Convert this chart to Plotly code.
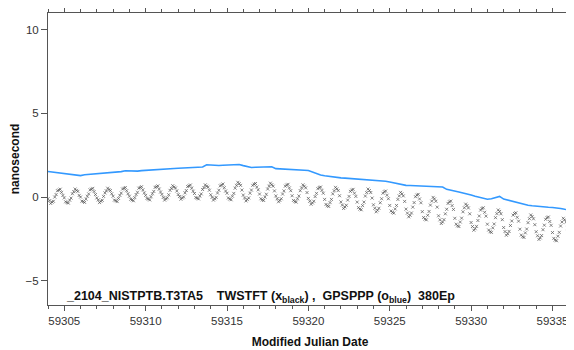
import plotly.graph_objects as go

# ---------------- data ----------------
# GPSPPP (blue), sampled every 0.25 day starting at MJD 59304.00
blue_start = 59304.0
blue_step_days = 0.25
blue_values = [
    1.53, 1.50, 1.47, 1.45,
    1.42, 1.38, 1.33, 1.30,
    1.28, 1.33, 1.35, 1.36,
    1.38, 1.40, 1.42, 1.44,
    1.46, 1.48, 1.52, 1.57,
    1.55, 1.53, 1.55, 1.58,
    1.60, 1.62, 1.65, 1.66,
    1.67, 1.69, 1.70, 1.71,
    1.72, 1.73, 1.74, 1.76,
    1.77, 1.79, 1.80, 1.93,
    1.91, 1.90, 1.89, 1.90,
    1.91, 1.93, 1.94, 1.95,
    1.88, 1.82, 1.77, 1.78,
    1.79, 1.78, 1.80, 1.81,
    1.70, 1.68, 1.66, 1.65,
    1.64, 1.63, 1.61, 1.60,
    1.59, 1.50, 1.40, 1.32,
    1.27, 1.23, 1.20, 1.18,
    1.15, 1.13, 1.11, 1.10,
    1.09, 1.08, 1.07, 1.05,
    1.03, 1.00, 0.97, 0.95,
    0.90, 0.85, 0.80, 0.74,
    0.70, 0.69, 0.68, 0.68,
    0.67, 0.66, 0.66, 0.65,
    0.64, 0.60, 0.46, 0.42,
    0.36, 0.30, 0.24, 0.20,
    0.12, 0.05, -0.02, -0.08,
    -0.13, -0.10, -0.05, 0.04,
    -0.12, -0.18, -0.25, -0.31,
    -0.38, -0.45, -0.49, -0.52,
    -0.55, -0.57, -0.59, -0.61,
    -0.62, -0.64, -0.68, -0.73,
    -0.77, -0.80,
]

# TWSTFT (black), one row per MJD day, samples at every 2 hours
black_days = list(range(59304, 59337))
black_hours = [0, 2, 4, 6, 8, 10, 12, 14, 16, 18, 20, 22]
black_rows = [
    [-0.10, -0.22, -0.38, -0.30, -0.25, 0.00, 0.15, 0.38, 0.42, 0.47, 0.28, 0.10],
    [-0.05, -0.28, -0.33, -0.36, -0.18, -0.06, 0.20, 0.32, 0.48, 0.40, 0.34, 0.10],
    [0.00, -0.24, -0.27, -0.32, -0.12, 0.05, 0.19, 0.43, 0.47, 0.52, 0.33, 0.15],
    [-0.05, -0.17, -0.33, -0.25, -0.19, 0.04, 0.25, 0.37, 0.53, 0.45, 0.39, 0.20],
    [0.05, -0.18, -0.22, -0.27, -0.08, 0.10, 0.24, 0.48, 0.52, 0.57, 0.38, 0.20],
    [0.05, -0.13, -0.17, -0.22, -0.03, 0.15, 0.29, 0.53, 0.57, 0.62, 0.43, 0.25],
    [0.10, -0.08, -0.12, -0.17, 0.02, 0.20, 0.34, 0.58, 0.62, 0.67, 0.48, 0.30],
    [0.16, -0.02, -0.18, -0.10, -0.04, 0.14, 0.40, 0.52, 0.68, 0.60, 0.54, 0.36],
    [0.15, 0.03, -0.13, -0.05, 0.01, 0.25, 0.39, 0.63, 0.67, 0.72, 0.53, 0.35],
    [0.21, -0.03, -0.07, -0.11, 0.07, 0.19, 0.45, 0.57, 0.73, 0.65, 0.59, 0.41],
    [0.14, -0.01, -0.18, -0.10, -0.02, 0.24, 0.41, 0.67, 0.72, 0.78, 0.56, 0.36],
    [0.23, -0.05, -0.12, -0.16, 0.05, 0.22, 0.53, 0.70, 0.88, 0.80, 0.70, 0.42],
    [0.12, -0.05, -0.23, -0.15, -0.05, 0.23, 0.42, 0.70, 0.77, 0.81, 0.60, 0.43],
    [0.18, -0.10, -0.17, -0.20, 0.00, 0.17, 0.48, 0.65, 0.83, 0.74, 0.65, 0.37],
    [0.07, -0.10, -0.28, -0.20, -0.10, 0.18, 0.37, 0.65, 0.72, 0.76, 0.55, 0.38],
    [0.08, -0.20, -0.27, -0.30, -0.10, 0.07, 0.38, 0.55, 0.73, 0.65, 0.55, 0.27],
    [-0.08, -0.25, -0.43, -0.35, -0.25, 0.03, 0.22, 0.50, 0.57, 0.60, 0.40, 0.23],
    [-0.14, -0.44, -0.52, -0.56, -0.33, -0.14, 0.19, 0.38, 0.58, 0.49, 0.39, 0.08],
    [-0.29, -0.48, -0.68, -0.59, -0.49, -0.18, 0.04, 0.34, 0.42, 0.46, 0.23, 0.04],
    [-0.30, -0.63, -0.72, -0.76, -0.51, -0.30, 0.06, 0.27, 0.48, 0.39, 0.27, -0.06],
    [-0.46, -0.67, -0.88, -0.79, -0.67, -0.34, -0.10, 0.23, 0.32, 0.36, 0.11, -0.10],
    [-0.50, -0.83, -0.92, -0.96, -0.71, -0.50, -0.14, 0.07, 0.28, 0.19, 0.07, -0.26],
    [-0.72, -0.96, -1.18, -1.09, -0.95, -0.60, -0.33, 0.02, 0.12, 0.16, -0.11, -0.34],
    [-0.87, -1.22, -1.32, -1.36, -1.09, -0.86, -0.48, -0.24, -0.02, -0.11, -0.25, -0.60],
    [-1.12, -1.36, -1.58, -1.49, -1.35, -1.00, -0.73, -0.38, -0.28, -0.24, -0.51, -0.74],
    [-1.27, -1.62, -1.72, -1.76, -1.49, -1.26, -0.88, -0.64, -0.42, -0.51, -0.65, -1.00],
    [-1.52, -1.76, -1.98, -1.89, -1.75, -1.40, -1.13, -0.78, -0.68, -0.64, -0.91, -1.14],
    [-1.62, -1.97, -2.07, -2.11, -1.84, -1.61, -1.23, -0.99, -0.77, -0.86, -1.00, -1.35],
    [-1.82, -2.06, -2.28, -2.19, -2.05, -1.70, -1.43, -1.08, -0.98, -0.94, -1.21, -1.44],
    [-1.92, -2.27, -2.37, -2.41, -2.14, -1.91, -1.53, -1.29, -1.07, -1.16, -1.30, -1.65],
    [-2.07, -2.31, -2.53, -2.44, -2.30, -1.95, -1.68, -1.33, -1.23, -1.19, -1.46, -1.69],
    [-2.12, -2.47, -2.57, -2.61, -2.34, -2.11, -1.73, -1.49, -1.27, -1.36, -1.50, -1.85],
    [-1.95, -1.75, -1.60],
]

x_tick_vals = [59305, 59310, 59315, 59320, 59325, 59330, 59335]
x_tick_text = ["59305", "59310", "59315", "59320", "59325", "59330", "59335"]
y_tick_vals = [-5, 0, 5, 10]
y_tick_text = ["\u22125", "0", "5", "10"]

# ---------------- build series ----------------
blue_x = [blue_start + i * blue_step_days for i in range(len(blue_values))]
black_x, black_y = [], []
for day, row in zip(black_days, black_rows):
    for h, v in zip(black_hours, row):
        black_x.append(day + h / 24.0)
        black_y.append(v)

FONT = "Liberation Sans, Arial, sans-serif"

fig = go.Figure()
fig.add_trace(go.Scatter(
    x=black_x, y=black_y, mode="markers",
    marker=dict(symbol="x-thin-open", size=3, line=dict(width=0.7, color="#555555"),
                color="#555555"),
    showlegend=False, hoverinfo="skip"))
fig.add_trace(go.Scatter(
    x=blue_x, y=blue_values, mode="lines",
    line=dict(color="#3399ff", width=1.6),
    showlegend=False, hoverinfo="skip"))

axis_common = dict(
    showgrid=False, zeroline=False, showline=True, linecolor="#555555", linewidth=1,
    mirror="ticks", ticks="outside", tickcolor="#555555", tickwidth=1,
    tickfont=dict(family=FONT, size=11.5, color="#333333"),
    automargin=False,
)
fig.update_xaxes(
    range=[59304, 59336.2], tickvals=x_tick_vals, ticktext=x_tick_text, ticklen=5,
    minor=dict(dtick=1, tick0=59304, ticks="outside", ticklen=3, tickcolor="#555555"),
    title=dict(text="<b>Modified Julian Date</b>", font=dict(family=FONT, size=12, color="#111111"),
               standoff=11),
    **axis_common)
fig.update_yaxes(
    range=[-6.45, 11], tickvals=y_tick_vals, ticktext=y_tick_text, ticklen=6,
    title=dict(text="<b>nanosecond</b>", font=dict(family=FONT, size=12, color="#111111"),
               standoff=10),
    **axis_common)

fig.add_annotation(
    x=59305.0, y=-6.0, xref="x", yref="y", xanchor="left", yanchor="middle",
    showarrow=False,
    text=("<b>_2104_NISTPTB.T3TA5&nbsp;&nbsp;&nbsp;&nbsp;TWSTFT (x<sub>black</sub>) ,&nbsp;&nbsp;"
          "GPSPPP (o<sub>blue</sub>)&nbsp;&nbsp;380Ep</b>"),
    font=dict(family=FONT, size=12.5, color="#111111"))

# page body adds an 8px offset, so the figure is drawn 8px smaller than the window
fig.update_layout(
    width=566, height=342,
    margin=dict(l=40, r=2, t=5, b=45),
    plot_bgcolor="white", paper_bgcolor="white",
)
fig.write_html("out.html")
